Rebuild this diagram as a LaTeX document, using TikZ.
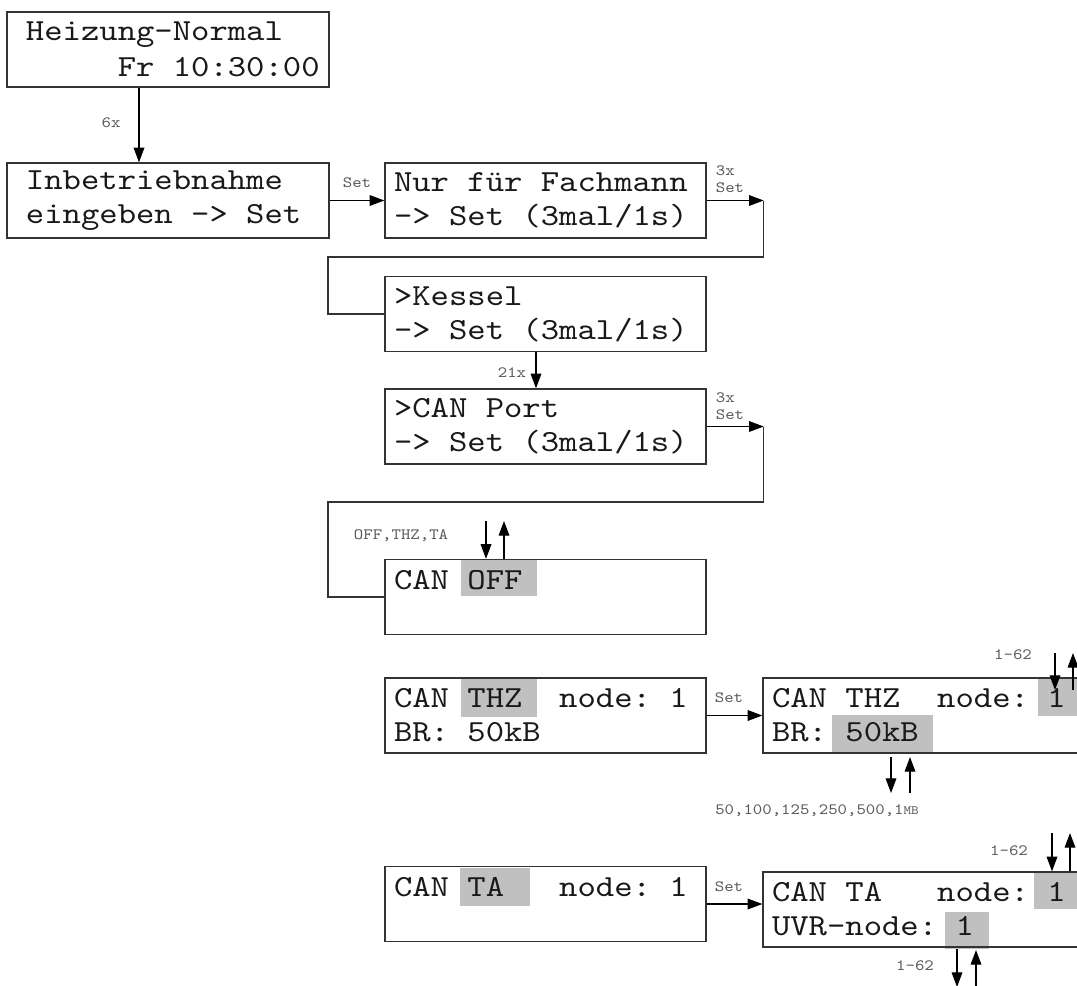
\documentclass[tikz,border=0pt]{standalone}
\usepackage{fontspec}
\newfontfamily\lcdfont[FakeStretch=1.14]{lmmono10-regular.otf}
\newcommand\lcdspacing{\setbox0\hbox{0}\spaceskip=\wd0\relax\xspaceskip=\wd0\relax}
\usetikzlibrary{positioning,arrows.meta,calc}
\definecolor{hlgray}{RGB}{192,192,192}

\begin{document}
\begin{tikzpicture}[
  x=0.75pt, y=-0.75pt,
  >={Triangle[length=11pt,width=8pt]},
  lcdbox/.style={draw=black!80, line width=1pt, font=\lcdfont\fontsize{23}{25.5}\selectfont, text=black!90,
    align=left, text width=227.25pt, inner xsep=6.75pt, inner ysep=0pt, minimum height=56.25pt,
    execute at begin node=\lcdspacing},
  mainbox/.style={lcdbox, text width=213pt, inner xsep=14.25pt},
  hilite/.style={fill=hlgray},
  flowarr/.style={->, draw=black, line width=0.9pt},
  wireline/.style={draw=black!80, line width=1pt},
  keylabel/.style={font=\lcdfont\fontsize{11.8}{12.8}\selectfont, text=black!65, inner sep=0pt, align=left}
]
  \clip (0,0) rectangle (1077,985);
  \fill[white] (0,0) rectangle (1077,985);

  \fill[hilite] (461,559) rectangle (537,596);
  \fill[hilite] (461,679) rectangle (537,717);
  \fill[hilite] (1038,678) rectangle (1090,716);
  \fill[hilite] (832,715) rectangle (933,753);
  \fill[hilite] (460,868) rectangle (530,906);
  \fill[hilite] (1034,872) rectangle (1090,909);
  \fill[hilite] (945,912) rectangle (989,949);

  \node[mainbox, font=\lcdfont\fontsize{23}{27}\selectfont] (heiz) at (168,49.5) {Heizung-Normal\\~~~~~Fr~10:30:00};
  \node[mainbox] (inbetr) at (168,200.5) {Inbetriebnahme\\eingeben~->~Set};
  \node[lcdbox] (fachmann) at (545.5,200.5) {Nur~für~Fachmann\\->~Set~(3mal/1s)};
  \node[lcdbox] (kessel) at (545.5,314) {>Kessel\\->~Set~(3mal/1s)};
  \node[lcdbox] (canport) at (545.5,426.5) {>CAN~Port\\->~Set~(3mal/1s)};
  \node[lcdbox] (canoff) at (545.5,597) {CAN~OFF\\~};
  \node[lcdbox] (thz) at (545.5,715.5) {CAN~THZ~~node:~1\\BR:~50kB};
  \node[lcdbox] (thzset) at (923.5,715.5) {CAN~THZ~~node:~1\\BR:~50kB};
  \node[lcdbox] (ta) at (545.5,904) {CAN~TA~~~node:~1\\~};
  \node[lcdbox] (taset) at (923.5,909.5) {CAN~TA~~~node:~1\\UVR-node:~1};

  \draw[flowarr] ($(heiz.south)+(-29,0)$) -- ($(inbetr.north)+(-29,0)$);
  \draw[flowarr] (inbetr.east) -- (fachmann.west);
  \coordinate (fachturn) at ($(fachmann.east)+(57,0)$);
  \coordinate (fachback) at (328,257);
  \draw[flowarr] (fachmann.east) -- (fachturn);
  \draw[wireline] (fachturn) |- (fachback) |- (kessel.west);
  \draw[flowarr] ($(kessel.south)+(-9.5,0)$) -- ($(canport.north)+(-9.5,0)$);
  \coordinate (portturn) at ($(canport.east)+(57,0)$);
  \coordinate (portback) at (328,502);
  \draw[flowarr] (canport.east) -- (portturn);
  \draw[wireline] (portturn) |- (portback) |- (canoff.west);
  \draw[flowarr] (thz.east) -- (thzset.west);
  \draw[flowarr] (ta.east) -- (ta.east -| taset.west);

  \coordinate (offdn) at (486,521);
  \coordinate (offup) at (504,521);
  \draw[flowarr] (offdn) -- (offdn |- canoff.north);
  \draw[flowarr] (offup |- canoff.north) -- (offup);
  \coordinate (thzdn) at (1055,653);
  \coordinate (thzup) at (1073,653);
  \draw[flowarr] (thzdn) -- ++(0,37);
  \draw[flowarr] ($(thzup)+(0,37)$) -- (thzup);
  \coordinate (brdn) at (891,793);
  \coordinate (brup) at (910,757);
  \draw[flowarr] ($(brdn)+(0,-36)$) -- (brdn);
  \draw[flowarr] ($(brup)+(0,36)$) -- (brup);
  \coordinate (tadn) at (1052,833);
  \coordinate (taup) at (1070,833);
  \draw[flowarr] (tadn) -- (tadn |- taset.north);
  \draw[flowarr] (taup |- taset.north) -- (taup);
  \coordinate (uvrdn) at (957,987);
  \coordinate (uvrup) at (976,950);
  \draw[flowarr] ($(uvrdn)+(0,-38)$) -- (uvrdn);
  \draw[flowarr] ($(uvrup)+(0,40)$) -- (uvrup);

  \node[keylabel] (lbsix) at (111,123) {6x};
  \node[keylabel] (lbsetone) at (357,183) {Set};
  \node[keylabel] (lbfach) at (730,179) {3x\\Set};
  \node[keylabel] (lbtwentyone) at (512,373) {21x};
  \node[keylabel] (lbport) at (730,406) {3x\\Set};
  \node[keylabel] (lboff) at (401,536) {OFF,THZ,TA};
  \node[keylabel] (lbsettwo) at (729,698) {Set};
  \node[keylabel] (lbthzrange) at (1013,655) {1-62};
  \node[keylabel] (lbbaud) at (817,811) {50,100,125,250,500,1{\fontsize{9.5}{10}\selectfont MB}};
  \node[keylabel] (lbsetthree) at (729,887) {Set};
  \node[keylabel] (lbtarange) at (1009,851) {1-62};
  \node[keylabel] (lbuvrrange) at (915,966) {1-62};
\end{tikzpicture}
\end{document}
